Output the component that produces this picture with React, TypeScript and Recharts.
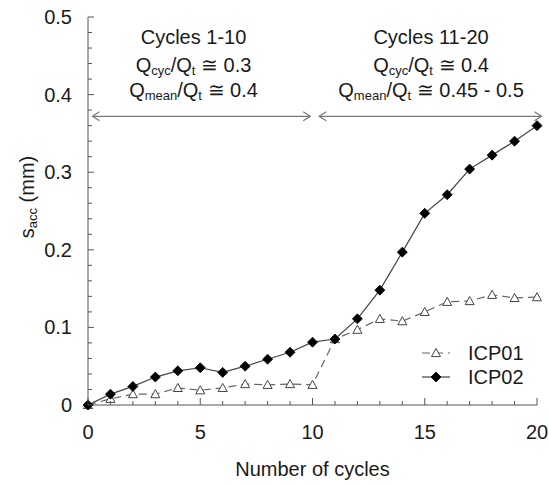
import React from "react";
import {
  LineChart,
  Line,
  XAxis,
  YAxis,
  ReferenceLine,
  ReferenceDot,
  Legend,
} from "recharts";

const cycles = [0, 1, 2, 3, 4, 5, 6, 7, 8, 9, 10, 11, 12, 13, 14, 15, 16, 17, 18, 19, 20];
const icp01 = [0, 0.008, 0.014, 0.014, 0.022, 0.019, 0.022, 0.027, 0.026, 0.027, 0.026, 0.085, 0.097, 0.111, 0.108, 0.12, 0.133, 0.134, 0.142, 0.138, 0.139];
const icp02 = [0, 0.014, 0.024, 0.036, 0.044, 0.048, 0.042, 0.05, 0.059, 0.068, 0.081, 0.085, 0.111, 0.148, 0.197, 0.247, 0.271, 0.304, 0.322, 0.34, 0.36];
const xTicks = [0, 1, 2, 3, 4, 5, 6, 7, 8, 9, 10, 11, 12, 13, 14, 15, 16, 17, 18, 19, 20];
const xMajor = [0, 5, 10, 15, 20];
const yTicks = [0, 0.02, 0.04, 0.06, 0.08, 0.1, 0.12, 0.14, 0.16, 0.18, 0.2, 0.22, 0.24, 0.26, 0.28, 0.3, 0.32, 0.34, 0.36, 0.38, 0.4, 0.42, 0.44, 0.46, 0.48, 0.5];
const yMajor = [0, 0.1, 0.2, 0.3, 0.4, 0.5];

const data = cycles.map((c, i) => ({ cycle: c, icp01: icp01[i], icp02: icp02[i] }));

const FONT = "'Liberation Sans', Arial, sans-serif";
const TEXT = "#1a1a1a";
const AXIS = "#555";
const FS = 20;
const SUB = 13;

const isMajorY = (v: number) => yMajor.some((m) => Math.abs(m - v) < 1e-9);

const YTick = (props: any) => {
  const { x, y, payload } = props;
  const v = payload.value;
  const major = isMajorY(v);
  return (
    <g>
      <line x1={x} y1={y} x2={x + (major ? 6 : 4)} y2={y} stroke={AXIS} strokeWidth={1} />
      {major && (
        <text x={x - 16} y={y} textAnchor="end" dominantBaseline="central" fontSize={FS} fontFamily={FONT} fill={TEXT}>
          {String(v)}
        </text>
      )}
    </g>
  );
};

const XTick = (props: any) => {
  const { x, y, payload } = props;
  const v = payload.value;
  const major = xMajor.includes(v);
  return (
    <g>
      <line x1={x} y1={y} x2={x} y2={y - (major ? 7 : 4)} stroke={AXIS} strokeWidth={1} />
      {major && (
        <text x={x} y={y + 27} textAnchor="middle" dominantBaseline="central" fontSize={FS} fontFamily={FONT} fill={TEXT}>
          {String(v)}
        </text>
      )}
    </g>
  );
};

const Diamond = (props: any) => {
  const { cx, cy, index } = props;
  if (cx == null || cy == null) return <g key={"d" + index} />;
  const r = 5;
  return (
    <polygon
      key={"d" + index}
      points={`${cx},${cy - r} ${cx + r},${cy} ${cx},${cy + r} ${cx - r},${cy}`}
      fill="#000"
      stroke="#000"
      strokeWidth={0.8}
    />
  );
};

const Triangle = (props: any) => {
  const { cx, cy, index } = props;
  if (cx == null || cy == null) return <g key={"t" + index} />;
  const r = 4.5;
  return (
    <polygon
      key={"t" + index}
      points={`${cx},${cy - r} ${cx + r},${cy + r * 0.8} ${cx - r},${cy + r * 0.8}`}
      fill="#fff"
      stroke="#444"
      strokeWidth={1}
    />
  );
};

const ArrowShape = (props: any) => {
  const { x1, y1, x2, y2 } = props;
  const h = 7;
  const w = 4.5;
  return (
    <g stroke="#777" strokeWidth={1.2} fill="none">
      <line x1={x1} y1={y1} x2={x2} y2={y2} />
      <polyline points={`${x1 + h},${y1 - w} ${x1},${y1} ${x1 + h},${y1 + w}`} />
      <polyline points={`${x2 - h},${y2 - w} ${x2},${y2} ${x2 - h},${y2 + w}`} />
    </g>
  );
};

const titleLine = (content: React.ReactNode) => (p: any) => (
  <text x={p.cx} y={p.cy} textAnchor="middle" dominantBaseline="central" fontSize={FS} fontFamily={FONT} fill={TEXT}>
    {content}
  </text>
);

const qcyc = (val: string) => (
  <>
    <tspan>Q</tspan>
    <tspan dy={5} fontSize={SUB}>cyc</tspan>
    <tspan dy={-5}>/Q</tspan>
    <tspan dy={5} fontSize={SUB}>t</tspan>
    <tspan dy={-5}>{val}</tspan>
  </>
);
const qmean = (val: string) => (
  <>
    <tspan>Q</tspan>
    <tspan dy={5} fontSize={SUB}>mean</tspan>
    <tspan dy={-5}>/Q</tspan>
    <tspan dy={5} fontSize={SUB}>t</tspan>
    <tspan dy={-5}>{val}</tspan>
  </>
);

const YLabel = (props: any) => {
  const vb = props.viewBox;
  const x = vb.x + 27;
  const y = vb.y + vb.height / 2 - 14;
  return (
    <text
      x={x}
      y={y}
      transform={`rotate(-90 ${x} ${y})`}
      textAnchor="middle"
      dominantBaseline="central"
      fontSize={FS}
      fontFamily={FONT}
      fill={TEXT}
    >
      <tspan>s</tspan>
      <tspan dy={5} fontSize={SUB}>acc</tspan>
      <tspan dy={-5}> (mm)</tspan>
    </text>
  );
};

const XLabel = (props: any) => {
  const vb = props.viewBox;
  return (
    <text
      x={vb.x + vb.width / 2}
      y={vb.y + 64}
      textAnchor="middle"
      dominantBaseline="central"
      fontSize={FS}
      fontFamily={FONT}
      fill={TEXT}
    >
      Number of cycles
    </text>
  );
};

const LegendContent = () => (
  <svg width={130} height={50} style={{ display: "block" }}>
    <g>
      <line x1={7} y1={13} x2={35} y2={13} stroke="#666" strokeWidth={1.2} strokeDasharray="8 5" />
      <Triangle cx={21} cy={13} index={0} />
      <text x={53} y={13} dominantBaseline="central" fontSize={FS} fontFamily={FONT} fill={TEXT}>ICP01</text>
    </g>
    <g>
      <line x1={7} y1={37} x2={35} y2={37} stroke="#444" strokeWidth={1.2} />
      <Diamond cx={21} cy={37} index={1} />
      <text x={53} y={37} dominantBaseline="central" fontSize={FS} fontFamily={FONT} fill={TEXT}>ICP02</text>
    </g>
  </svg>
);

export default function App() {
  return (
    <div style={{ position: "absolute", left: 0, top: 0, width: 549, height: 484, background: "#fff" }}>
      <LineChart width={549} height={484} data={data} margin={{ top: 17, right: 12, bottom: 0, left: 0 }}>
        <XAxis
          dataKey="cycle"
          type="number"
          domain={[0, 20]}
          ticks={xTicks}
          interval={0}
          tickSize={0}
          tickMargin={0}
          tickLine={false}
          tick={<XTick />}
          axisLine={{ stroke: AXIS, strokeWidth: 1 }}
          height={79}
          label={<XLabel />}
        />
        <YAxis
          type="number"
          domain={[0, 0.5]}
          ticks={yTicks}
          interval={0}
          tickSize={0}
          tickMargin={0}
          tickLine={false}
          tick={<YTick />}
          axisLine={{ stroke: AXIS, strokeWidth: 1 }}
          width={88}
          label={<YLabel />}
        />
        <ReferenceLine
          segment={[{ x: 0.2, y: 0.372 }, { x: 9.9, y: 0.372 }]}
          ifOverflow="visible"
          shape={<ArrowShape />}
        />
        <ReferenceLine
          segment={[{ x: 10.3, y: 0.372 }, { x: 20.2, y: 0.372 }]}
          ifOverflow="visible"
          shape={<ArrowShape />}
        />
        <ReferenceDot x={4.7} y={0.474} r={0} ifOverflow="visible" shape={titleLine("Cycles 1-10")} />
        <ReferenceDot x={4.7} y={0.438} r={0} ifOverflow="visible" shape={titleLine(qcyc("  \u2245 0.3"))} />
        <ReferenceDot x={4.7} y={0.406} r={0} ifOverflow="visible" shape={titleLine(qmean("  \u2245 0.4"))} />
        <ReferenceDot x={15.28} y={0.474} r={0} ifOverflow="visible" shape={titleLine("Cycles 11-20")} />
        <ReferenceDot x={15.28} y={0.438} r={0} ifOverflow="visible" shape={titleLine(qcyc(" \u2245 0.4"))} />
        <ReferenceDot x={15.28} y={0.406} r={0} ifOverflow="visible" shape={titleLine(qmean(" \u2245 0.45 - 0.5"))} />
        <Line
          dataKey="icp01"
          name="ICP01"
          stroke="#666"
          strokeWidth={1.2}
          strokeDasharray="8 5"
          dot={(p: any) => <Triangle {...p} key={"t" + p.index} />}
          isAnimationActive={false}
        />
        <Line
          dataKey="icp02"
          name="ICP02"
          stroke="#444"
          strokeWidth={1.2}
          dot={(p: any) => <Diamond {...p} key={"d" + p.index} />}
          isAnimationActive={false}
        />
        <Legend
          layout="vertical"
          align="center"
          verticalAlign="middle"
          content={<LegendContent />}
          wrapperStyle={{ position: "absolute", left: 415, top: 340, width: 130, height: 50 }}
        />
      </LineChart>
    </div>
  );
}
